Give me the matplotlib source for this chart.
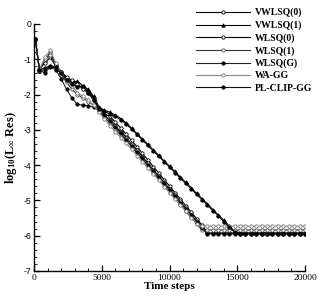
import numpy as np
import matplotlib
matplotlib.use("Agg")
import matplotlib.pyplot as plt
from matplotlib.ticker import MultipleLocator

plt.rcParams["axes.unicode_minus"] = False
plt.rcParams["mathtext.fontset"] = "custom"
plt.rcParams["mathtext.rm"] = "Liberation Serif:bold"
plt.rcParams["mathtext.it"] = "Liberation Serif:bold"
plt.rcParams["mathtext.bf"] = "Liberation Serif:bold"

# ── data (log10 of L-inf residual, sampled every 400 steps) ────────────────
steps = np.arange(0, 20001, 400)
steps[0] = 100

vwlsq0 = [-0.43, -1.30, -1.05, -0.80, -1.15, -1.35, -1.55, -1.62, -1.72, -1.80,
          -1.90, -2.10, -2.40, -2.55, -2.62, -2.78, -2.95, -3.12, -3.30, -3.48,
          -3.67, -3.85, -4.04, -4.22, -4.41, -4.59, -4.78, -4.96, -5.15, -5.33,
          -5.52, -5.70, -5.93, -5.93, -5.93, -5.93, -5.93, -5.93, -5.93, -5.93,
          -5.93, -5.93, -5.93, -5.93, -5.93, -5.93, -5.93, -5.93, -5.93, -5.93,
          -5.93]
vwlsq1 = [-0.43, -1.32, -1.30, -1.20, -1.25, -1.38, -1.55, -1.65, -1.62, -1.75,
          -1.85, -2.05, -2.35, -2.45, -2.50, -2.58, -2.68, -2.80, -2.95, -3.11,
          -3.26, -3.41, -3.57, -3.72, -3.88, -4.03, -4.18, -4.34, -4.49, -4.64,
          -4.80, -4.95, -5.10, -5.26, -5.41, -5.56, -5.72, -5.87, -5.93, -5.93,
          -5.93, -5.93, -5.93, -5.93, -5.93, -5.93, -5.93, -5.93, -5.93, -5.93,
          -5.93]
wlsq0 = [-0.43, -1.28, -1.10, -0.95, -1.18, -1.35, -1.50, -1.60, -1.70, -1.85,
         -1.95, -2.15, -2.45, -2.60, -2.72, -2.90, -3.05, -3.22, -3.40, -3.58,
         -3.76, -3.94, -4.13, -4.31, -4.49, -4.67, -4.85, -5.03, -5.22, -5.40,
         -5.58, -5.76, -5.93, -5.93, -5.93, -5.93, -5.93, -5.93, -5.93, -5.93,
         -5.93, -5.93, -5.93, -5.93, -5.93, -5.93, -5.93, -5.93, -5.93, -5.93,
         -5.93]
wlsq1 = [-0.43, -1.30, -1.00, -0.88, -1.20, -1.45, -1.65, -1.85, -2.00, -2.10,
         -2.20, -2.30, -2.48, -2.65, -2.80, -2.98, -3.15, -3.30, -3.48, -3.66,
         -3.84, -4.02, -4.21, -4.39, -4.57, -4.75, -4.93, -5.11, -5.30, -5.48,
         -5.66, -5.84, -5.84, -5.84, -5.84, -5.84, -5.84, -5.84, -5.84, -5.84,
         -5.84, -5.84, -5.84, -5.84, -5.84, -5.84, -5.84, -5.84, -5.84, -5.84,
         -5.84]
wlsqg = [-0.43, -1.32, -1.38, -1.22, -1.30, -1.55, -1.85, -2.10, -2.28, -2.30,
         -2.32, -2.35, -2.45, -2.58, -2.75, -2.92, -3.10, -3.28, -3.45, -3.63,
         -3.81, -3.99, -4.17, -4.35, -4.52, -4.70, -4.88, -5.06, -5.24, -5.42,
         -5.60, -5.78, -5.95, -5.95, -5.95, -5.95, -5.95, -5.95, -5.95, -5.95,
         -5.95, -5.95, -5.95, -5.95, -5.95, -5.95, -5.95, -5.95, -5.95, -5.95,
         -5.95]
wagg = [-0.43, -1.30, -0.95, -0.75, -1.10, -1.40, -1.60, -1.75, -1.95, -2.05,
        -2.15, -2.30, -2.50, -2.70, -2.88, -3.05, -3.22, -3.38, -3.55, -3.73,
        -3.90, -4.08, -4.25, -4.43, -4.61, -4.78, -4.96, -5.13, -5.31, -5.49,
        -5.66, -5.73, -5.73, -5.73, -5.73, -5.73, -5.73, -5.73, -5.73, -5.73,
        -5.73, -5.73, -5.73, -5.73, -5.73, -5.73, -5.73, -5.73, -5.73, -5.73,
        -5.73]
plclip = [-0.43, -1.30, -1.25, -1.18, -1.22, -1.40, -1.60, -1.70, -1.80, -1.75,
          -1.95, -2.15, -2.40, -2.48, -2.55, -2.62, -2.72, -2.84, -2.98, -3.13,
          -3.29, -3.44, -3.60, -3.75, -3.90, -4.06, -4.21, -4.37, -4.52, -4.67,
          -4.83, -4.98, -5.14, -5.29, -5.44, -5.60, -5.75, -5.90, -5.95, -5.95,
          -5.95, -5.95, -5.95, -5.95, -5.95, -5.95, -5.95, -5.95, -5.95, -5.95,
          -5.95]

labels = ["VWLSQ(0)", "VWLSQ(1)", "WLSQ(0)", "WLSQ(1)", "WLSQ(G)", "WA-GG", "PL-CLIP-GG"]

# ── styles ───────────────────────────────────────────────────────────────────
series = [vwlsq0, vwlsq1, wlsq0, wlsq1, wlsqg, wagg, plclip]
line_colors = ["#000000", "#000000", "#000000", "#333333", "#222222", "#8a8a8a", "#111111"]
markers = ["o", "^", "o", "o", "o", "o", "o"]
face_colors = ["white", "black", "white", "white", "black", "white", "black"]
edge_colors = ["black", "black", "black", "#555555", "black", "#777777", "black"]

fig = plt.figure(figsize=(3.32, 2.96), dpi=100)
ax = fig.add_axes([0.1024, 0.0845, 0.8163, 0.8345])

for y, lab, lc, mk, fc, ec in zip(series, labels, line_colors, markers,
                                  face_colors, edge_colors):
    ax.plot(steps, y, color=lc, lw=0.8, marker=mk, markersize=2.4,
            markerfacecolor=fc, markeredgecolor=ec, markeredgewidth=0.6,
            label=lab)

ax.set_xlim(0, 20000)
ax.set_ylim(-7, 0)
ax.xaxis.set_major_locator(MultipleLocator(5000))
ax.xaxis.set_minor_locator(MultipleLocator(1000))
ax.yaxis.set_major_locator(MultipleLocator(1))
ax.yaxis.set_minor_locator(MultipleLocator(0.2))

for side in ["top", "right"]:
    ax.spines[side].set_visible(False)
for side in ["left", "bottom"]:
    ax.spines[side].set_linewidth(1.0)

ax.tick_params(which="major", direction="in", length=4, width=0.9, pad=2)
ax.tick_params(which="minor", direction="in", length=2, width=0.6)
for t in ax.get_xticklabels():
    t.set_fontfamily("Liberation Serif")
    t.set_fontsize(6.8)
for t in ax.get_yticklabels():
    t.set_fontfamily("Liberation Sans")
    t.set_fontsize(6.3)

ax.set_xlabel("Time steps", fontfamily="Liberation Serif", fontweight="bold",
              fontsize=8, labelpad=0)
ax.set_ylabel(r"$\mathrm{log}_{10}(\mathrm{L}_{\infty}\ \mathrm{Res})$",
              fontsize=9, labelpad=3)

leg = ax.legend(loc="upper left", bbox_to_anchor=(0.582, 1.081),
                frameon=False, numpoints=1, handlelength=5.6,
                handletextpad=0.5, labelspacing=0.32, borderaxespad=0,
                prop={"family": "Liberation Serif", "weight": "bold", "size": 7})

plt.savefig("out.png", dpi=100)
plt.close()
print("saved out.png")
